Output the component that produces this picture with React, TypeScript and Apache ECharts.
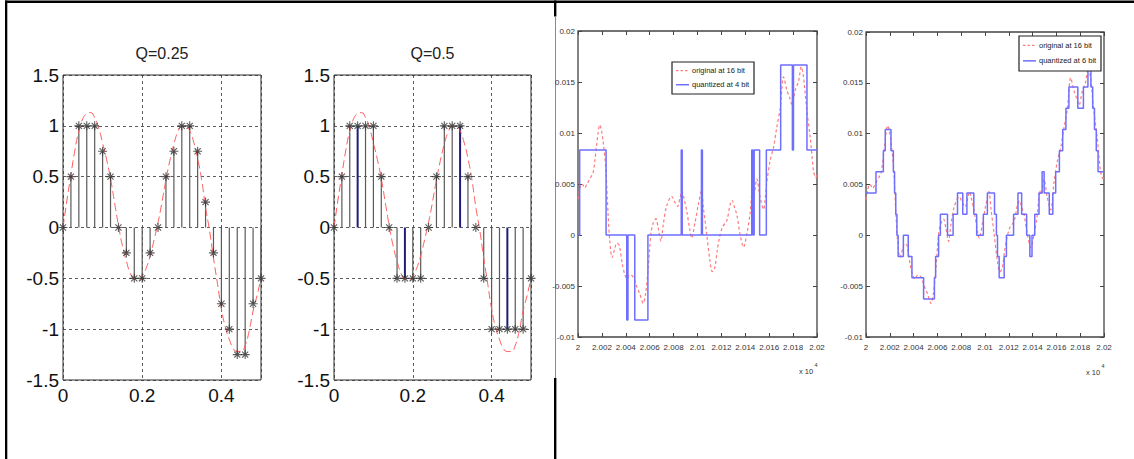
import React, { useEffect, useRef } from 'react';
import * as echarts from 'echarts';

// ---------- left cell: sampled sine, quantized ----------
const sampleTimes = [0, 0.02, 0.04, 0.06, 0.08, 0.1, 0.12, 0.14, 0.16, 0.18, 0.2, 0.22, 0.24, 0.26, 0.28, 0.3, 0.32, 0.34, 0.36, 0.38, 0.4, 0.42, 0.44, 0.46, 0.48, 0.5];
const quantQ025 = [0, 0.5, 1, 1, 1, 0.75, 0.5, 0, -0.25, -0.5, -0.5, -0.25, 0, 0.5, 0.75, 1, 1, 0.75, 0.25, -0.25, -0.75, -1, -1.25, -1.25, -0.75, -0.5];
const quantQ05 = [0, 0.5, 1, 1, 1, 1, 0.5, 0, -0.5, -0.5, -0.5, -0.5, 0, 0.5, 1, 1, 1, 0.5, 0, -0.5, -1, -1, -1, -1, -1, -0.5];
const highlightQ05 = [0.06, 0.18, 0.32, 0.44];
const analogTimes = [0, 0.01, 0.02, 0.03, 0.04, 0.05, 0.06, 0.07, 0.08, 0.09, 0.1, 0.11, 0.12, 0.13, 0.14, 0.15, 0.16, 0.17, 0.18, 0.19, 0.2, 0.21, 0.22, 0.23, 0.24, 0.25, 0.26, 0.27, 0.28, 0.29, 0.3, 0.31, 0.32, 0.33, 0.34, 0.35, 0.36, 0.37, 0.38, 0.39, 0.4, 0.41, 0.42, 0.43, 0.44, 0.45, 0.46, 0.47, 0.48, 0.49, 0.5];
const analogValues = [0, 0.27, 0.52, 0.76, 0.95, 1.07, 1.12, 1.13, 1.08, 0.98, 0.83, 0.67, 0.48, 0.25, 0.02, -0.18, -0.33, -0.45, -0.51, -0.52, -0.48, -0.4, -0.28, -0.12, 0.05, 0.25, 0.47, 0.66, 0.82, 0.94, 1.0, 1.0, 0.95, 0.84, 0.68, 0.47, 0.2, -0.03, -0.3, -0.55, -0.8, -0.98, -1.1, -1.19, -1.22, -1.22, -1.16, -1.02, -0.82, -0.67, -0.5];
const titles = ['Q=0.25', 'Q=0.5'];

// ---------- right cell: audio samples ----------
const originalSamples = [0, 1.5, 2.8, 4.2, 5.6, 7.5, 9.8, 12.6, 14, 15.4, 16.8, 18.2, 19.6, 21, 23.2, 25.2, 26.6, 28.6, 30.8, 32.5, 34.5, 37, 39, 41, 43.4, 46.2, 49, 51.8, 54.6, 56.5, 58.8, 61, 63, 65.2, 67.1, 69.4, 71.3, 74.1, 78.3, 81.1, 83.4, 85.5, 87, 88.5, 90.9, 93.7, 95.1, 97.9, 100.7, 103.3, 104.9, 107.7, 110.5, 112.4, 114.5, 116.5, 118.5, 121, 124.5, 127.3, 129, 131, 132.9, 135.6, 138.5, 141.3, 144.1, 146, 147.2, 149.6, 152.4, 155.2, 158, 160.8, 163.6, 166.4, 169.2, 172, 174.8, 177, 179, 181.8, 184.6, 186.8, 188.7, 191.5, 194.3, 197.1, 199, 200];
const originalValues = [0.0035, 0.0045, 0.005, 0.0049, 0.0046, 0.005, 0.0055, 0.0061, 0.0072, 0.0086, 0.01, 0.0108, 0.0103, 0.0092, 0.0066, 0.002, -0.0006, -0.0022, -0.0013, -0.0008, -0.001, -0.0028, -0.0038, -0.0043, -0.0039, -0.0041, -0.005, -0.0058, -0.0067, -0.0058, -0.0032, 0.0001, 0.0012, 0.0016, 0.0007, -0.0006, 0.001, 0.0028, 0.0038, 0.0032, 0.0028, 0.0037, 0.0043, 0.0037, 0.0024, 0.0004, -0.0003, 0.0012, 0.003, 0.0043, 0.0027, 0.0001, -0.0026, -0.0036, -0.0032, -0.0015, -0.0002, 0.0008, 0.0014, 0.003, 0.0034, 0.0027, 0.002, 0.0001, -0.0012, 0.0001, 0.0022, 0.0044, 0.004, 0.0055, 0.0037, 0.0025, 0.0052, 0.0073, 0.0086, 0.0106, 0.0124, 0.0155, 0.0142, 0.0135, 0.0128, 0.0142, 0.0151, 0.0165, 0.0155, 0.0122, 0.0096, 0.0063, 0.0056, 0.006];
const quant4Starts = [0, 1.4, 23.5, 40.8, 41.8, 47.5, 58.5, 86.4, 87.2, 103.3, 104.1, 145.4, 146.3, 147.4, 152, 157.6, 169.6, 179.4, 180.3, 191.6, 200];
const quant4Values = [0, 0.00833, 0, -0.00833, 0, -0.00833, 0, 0.00833, 0, 0.00833, 0, 0.00833, 0, 0.00833, 0, 0.00833, 0.01667, 0.00833, 0.01667, 0.00833, 0.00833];
const quant6Starts = [0, 8.4, 14.6, 16.2, 21, 23, 24, 25, 26, 27, 31.4, 35.5, 38.6, 48.4, 57.5, 58.5, 61, 62.5, 68.5, 73.2, 76.9, 81.3, 84.8, 90.6, 93, 98.6, 102, 108, 109.6, 110.5, 111.9, 116.1, 118, 124, 127.7, 130.8, 135, 137.7, 139.5, 141.8, 145.4, 148, 149.7, 154, 157, 159.4, 162.5, 165.3, 168, 170.5, 178, 182.7, 186.5, 189, 190.5, 192, 193.5, 195, 200];
const quant6Values = [0.00417, 0.00625, 0.00833, 0.01042, 0.00833, 0.00625, 0.00417, 0.00208, 0, -0.00208, 0, -0.00208, -0.00417, -0.00625, -0.00417, -0.00208, 0, 0.00208, 0, 0.00208, 0.00417, 0.00208, 0.00417, 0.00208, 0, 0.00208, 0.00417, 0.00208, 0, -0.00208, -0.00417, -0.00208, 0, 0.00208, 0.00417, 0.00208, 0, -0.00208, 0, 0.00208, 0.00417, 0.00625, 0.00417, 0.00208, 0.00417, 0.00625, 0.00833, 0.01042, 0.0125, 0.01458, 0.0125, 0.01458, 0.01667, 0.01458, 0.0125, 0.01042, 0.00833, 0.00625, 0.00625];
const sampleOrigin = 20000;
const legendLabels = [['original at 16 bit', 'quantized at 4 bit'], ['original at 16 bit', 'quantized at 6 bit']];

const SANS = "'Liberation Sans', Arial, sans-serif";
const STAR = 'path://M5 0 L5 10 M0 5 L10 5 M1.6 1.6 L8.4 8.4 M1.6 8.4 L8.4 1.6';

const grids = [
  { left: 63, top: 75, width: 198, height: 305 },
  { left: 334, top: 75, width: 197, height: 305 },
  { left: 578, top: 31, width: 239, height: 306 },
  { left: 866, top: 32, width: 238, height: 305 },
];

export default function App() {
  const ref = useRef<HTMLDivElement>(null);
  useEffect(() => {
    if (!ref.current) return;
    const chart = echarts.init(ref.current, undefined, { renderer: 'svg' });

    const leftSplit = { show: true, lineStyle: { color: '#333', width: 0.8, type: [3, 3] as any } };
    const leftXAxis = (gi: number) => ({
      type: 'value', gridIndex: gi, min: 0, max: 0.5, interval: 0.2,
      axisLine: { show: false, onZero: false }, axisTick: { show: false }, splitLine: leftSplit,
      axisLabel: { fontFamily: SANS, fontSize: 19, color: '#111', margin: 6, showMaxLabel: false },
    });
    const leftYAxis = (gi: number) => ({
      type: 'value', gridIndex: gi, min: -1.5, max: 1.5, interval: 0.5,
      axisLine: { show: false, onZero: false }, axisTick: { show: false }, splitLine: leftSplit,
      axisLabel: { fontFamily: SANS, fontSize: 19, color: '#111', margin: 4 },
    });
    const rightXAxis = (gi: number, top: boolean) => ({
      type: 'value', gridIndex: gi, min: sampleOrigin, max: sampleOrigin + 200, interval: 20,
      position: top ? 'top' : 'bottom',
      axisLine: { show: false, onZero: false }, splitLine: { show: false },
      axisTick: { show: true, inside: true, length: 4, lineStyle: { color: '#444' } },
      axisLabel: {
        show: !top, fontFamily: SANS, fontSize: 8, color: '#333', margin: 6,
        formatter: (v: number) => String(Number((v / 10000).toFixed(4))),
      },
    });
    const rightYAxis = (gi: number, right: boolean) => ({
      type: 'value', gridIndex: gi, min: -0.01, max: 0.02, interval: 0.005,
      position: right ? 'right' : 'left',
      axisLine: { show: false, onZero: false }, splitLine: { show: false },
      axisTick: { show: true, inside: true, length: 4, lineStyle: { color: '#444' } },
      axisLabel: { show: !right, fontFamily: SANS, fontSize: 8, color: '#333', margin: 3 },
    });

    const stemSeries = (gi: number, values: number[], highlight: number[]) => ({
      type: 'custom', xAxisIndex: gi, yAxisIndex: gi, z: 2,
      data: sampleTimes.map((t, i) => [t, values[i]]),
      renderItem: (params: any, api: any) => {
        const t = api.value(0);
        const v = api.value(1);
        const p0 = api.coord([t, 0]);
        const p1 = api.coord([t, v]);
        const hi = highlight.some((h) => Math.abs(h - t) < 1e-6);
        return {
          type: 'line',
          shape: { x1: p0[0], y1: p0[1], x2: p1[0], y2: p1[1] },
          style: { stroke: hi ? '#1e1e7a' : '#5a5a5a', lineWidth: hi ? 2 : 1.2 },
        };
      },
    });
    const starSeries = (gi: number, values: number[]) => ({
      type: 'scatter', xAxisIndex: gi, yAxisIndex: gi, z: 4,
      symbol: STAR, symbolSize: 9,
      itemStyle: { color: '#222', borderColor: '#333', borderWidth: 1.1 },
      data: sampleTimes.map((t, i) => [t, values[i]]),
    });
    const analogSeries = (gi: number) => ({
      type: 'line', xAxisIndex: gi, yAxisIndex: gi, z: 3, smooth: true, showSymbol: false,
      lineStyle: { color: '#ff5a5a', width: 1, type: [8, 4] as any },
      data: analogTimes.map((t, i) => [t, analogValues[i]]),
    });
    const originalSeries = (gi: number) => ({
      type: 'line', xAxisIndex: gi, yAxisIndex: gi, z: 2, smooth: 0.3, showSymbol: false,
      lineStyle: { color: '#ff7b7b', width: 1.2, type: [3, 2.5] as any },
      data: originalSamples.map((s, i) => [sampleOrigin + s, originalValues[i]]),
    });
    const quantSeries = (gi: number, starts: number[], values: number[]) => ({
      type: 'line', xAxisIndex: gi, yAxisIndex: gi, z: 3, step: 'end', showSymbol: false,
      lineStyle: { color: '#6e6eff', width: 1.5 },
      data: starts.map((s, i) => [sampleOrigin + s, values[i]]),
    });

    const graphic: any[] = [];
    // table borders
    graphic.push({ type: 'rect', shape: { x: 5, y: 0.5, width: 1129, height: 2.6 }, style: { fill: '#000' } });
    graphic.push({ type: 'rect', shape: { x: 5, y: 0.5, width: 2.3, height: 459 }, style: { fill: '#000' } });
    graphic.push({ type: 'rect', shape: { x: 554, y: 0.5, width: 2.4, height: 16 }, style: { fill: '#000' } });
    graphic.push({ type: 'line', shape: { x1: 555.5, y1: 16, x2: 555.5, y2: 378 }, style: { stroke: '#8a8a8a', lineWidth: 1 } });
    graphic.push({ type: 'rect', shape: { x: 554, y: 378, width: 2.4, height: 81 }, style: { fill: '#000' } });
    // titles of left plots
    [0, 1].forEach((i) => {
      const g = grids[i];
      graphic.push({
        type: 'text', x: g.left + g.width / 2, y: 45,
        style: { text: titles[i], fontFamily: SANS, fontSize: 16, fill: '#222', textAlign: 'center', textVerticalAlign: 'top' },
      });
    });
    // legends + exponent labels of right plots
    const legendBoxes = [
      { x: 672, y: 62, w: 82, h: 32 },
      { x: 1019, y: 36, w: 82, h: 35 },
    ];
    legendBoxes.forEach((b, i) => {
      const y1 = b.y + b.h * 0.27;
      const y2 = b.y + b.h * 0.71;
      graphic.push({ type: 'rect', z: 100, shape: { x: b.x, y: b.y, width: b.w, height: b.h }, style: { fill: '#fff', stroke: '#222', lineWidth: 1.2 } });
      graphic.push({ type: 'line', z: 101, shape: { x1: b.x + 4, y1, x2: b.x + 17, y2: y1 }, style: { stroke: '#ff7b7b', lineWidth: 1.2, lineDash: [2.5, 2] } });
      graphic.push({ type: 'line', z: 101, shape: { x1: b.x + 4, y1: y2, x2: b.x + 17, y2: y2 }, style: { stroke: '#6e6eff', lineWidth: 1.5 } });
      graphic.push({ type: 'text', z: 101, x: b.x + 20, y: y1, style: { text: legendLabels[i][0], fontFamily: SANS, fontSize: 7.5, fill: '#222', textVerticalAlign: 'middle' } });
      graphic.push({ type: 'text', z: 101, x: b.x + 20, y: y2, style: { text: legendLabels[i][1], fontFamily: SANS, fontSize: 7.5, fill: '#222', textVerticalAlign: 'middle' } });
    });
    [{ x: 799, y: 371 }, { x: 1086, y: 372 }].forEach((p) => {
      graphic.push({ type: 'text', x: p.x, y: p.y, style: { text: 'x 10', fontFamily: SANS, fontSize: 7.5, fill: '#333', textVerticalAlign: 'middle' } });
      graphic.push({ type: 'text', x: p.x + 15.5, y: p.y - 6, style: { text: '4', fontFamily: SANS, fontSize: 5.5, fill: '#333', textVerticalAlign: 'middle' } });
    });

    chart.setOption({
      animation: false,
      backgroundColor: '#fff',
      grid: grids.map((g, i) => ({
        ...g, show: true, containLabel: false,
        borderColor: i < 2 ? '#2a2a2a' : '#444', borderWidth: i < 2 ? 1 : 1.3, backgroundColor: 'transparent',
      })),
      xAxis: [leftXAxis(0), leftXAxis(1), rightXAxis(2, false), rightXAxis(3, false), rightXAxis(2, true), rightXAxis(3, true)],
      yAxis: [leftYAxis(0), leftYAxis(1), rightYAxis(2, false), rightYAxis(3, false), rightYAxis(2, true), rightYAxis(3, true)],
      series: [
        stemSeries(0, quantQ025, []),
        starSeries(0, quantQ025),
        analogSeries(0),
        stemSeries(1, quantQ05, highlightQ05),
        starSeries(1, quantQ05),
        analogSeries(1),
        originalSeries(2),
        quantSeries(2, quant4Starts, quant4Values),
        originalSeries(3),
        quantSeries(3, quant6Starts, quant6Values),
      ],
      graphic,
    });
    return () => chart.dispose();
  }, []);

  return <div ref={ref} style={{ position: 'fixed', left: 0, top: 0, width: 1134, height: 459, background: '#fff' }} />;
}
